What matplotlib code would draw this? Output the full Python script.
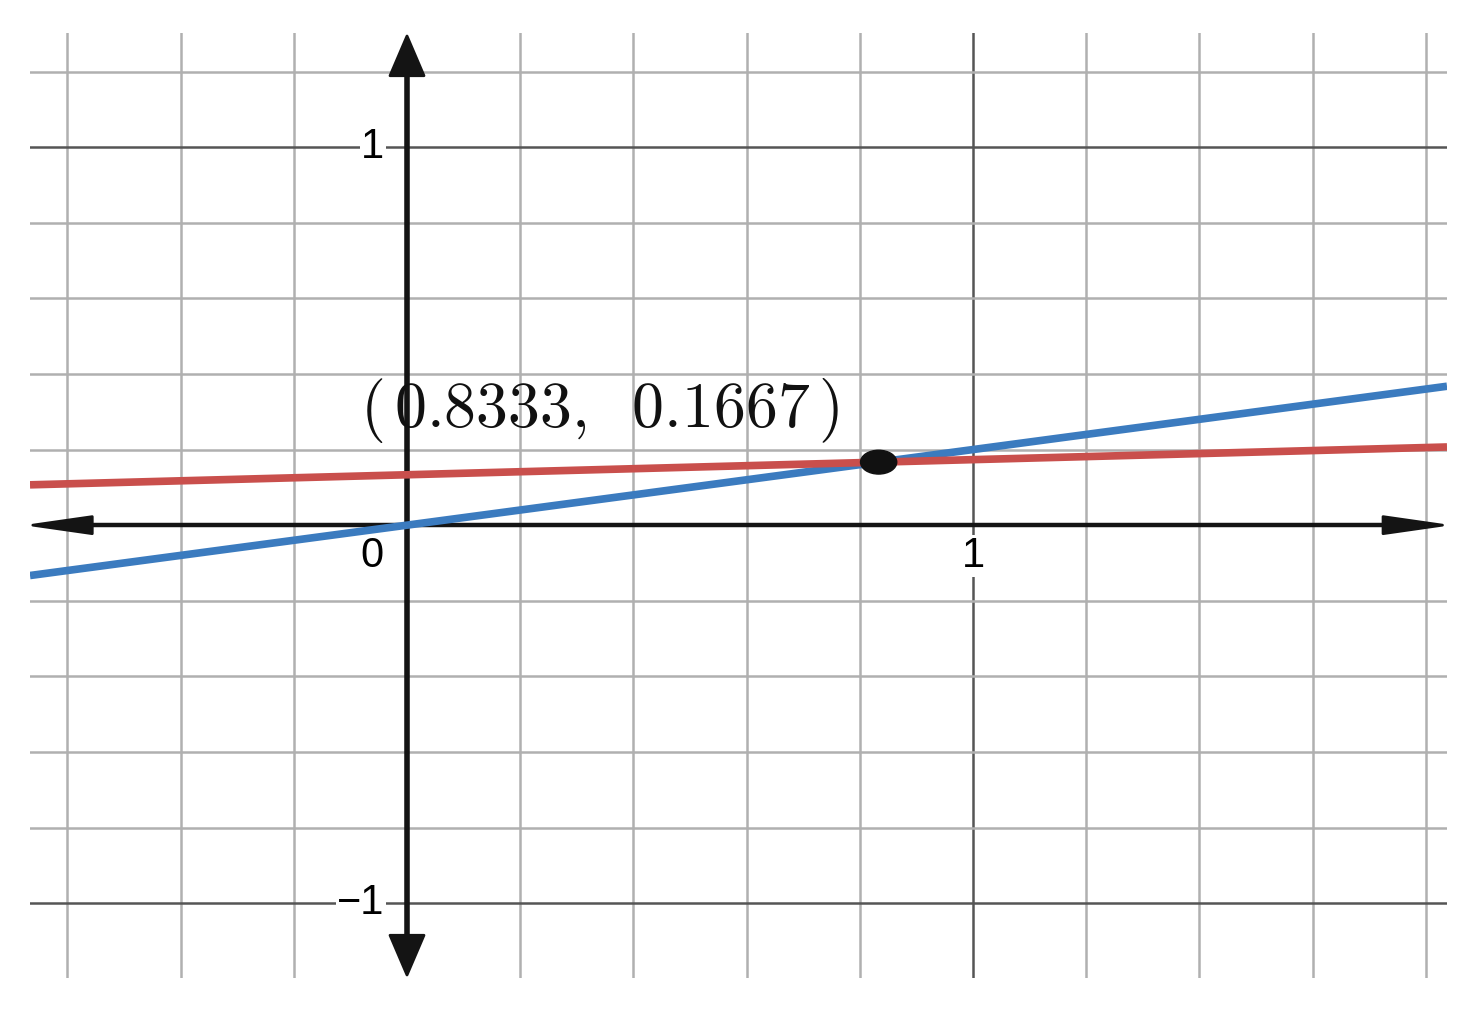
import matplotlib
matplotlib.use("Agg")
import matplotlib.pyplot as plt
from matplotlib.patches import Ellipse, Polygon
import numpy as np

# ---- data ----
x_range = [-0.6661, 1.8375]
y_range = [-1.198, 1.302]
grid_step = 0.2
major_x = [1]
major_y = [-1, 1]
x_tick_labels = {1: "1"}
y_tick_labels = {1: "1", -1: "\u22121"}
origin_label = "0"

blue_slope, blue_intercept = 0.2, 0.0
red_slope, red_intercept = 0.04, 0.13333
point_xy = (0.8333, 0.1667)
point_label = r"$(\,0.8333,\;\;0.1667\,)$"

blue_color = "#3b7bbf"
red_color = "#c94f4c"

plt.rcParams["mathtext.fontset"] = "cm"

fig = plt.figure(figsize=(14.69, 10.15), dpi=100)
ax = fig.add_axes([30 / 1469, 37 / 1015, 1417 / 1469, 945 / 1015])
ax.set_xlim(*x_range)
ax.set_ylim(*y_range)
for s in ax.spines.values():
    s.set_visible(False)
ax.set_xticks([])
ax.set_yticks([])

# grid
gx = np.arange(np.ceil(x_range[0] / grid_step), np.floor(x_range[1] / grid_step) + 1) * grid_step
gy = np.arange(np.ceil(y_range[0] / grid_step), np.floor(y_range[1] / grid_step) + 1) * grid_step
for v in gx:
    if np.isclose(v, 0):
        continue
    major = any(np.isclose(v, m) for m in major_x)
    ax.axvline(v, color="#555555" if major else "#b0b0b0", lw=1.8, zorder=1)
for v in gy:
    if np.isclose(v, 0):
        continue
    major = any(np.isclose(v, m) for m in major_y)
    ax.axhline(v, color="#555555" if major else "#b0b0b0", lw=1.8, zorder=1)

# axes with arrows
ax_color = "#141414"
tipL, tipR = x_range[0] + 0.005, x_range[1] - 0.008
tipT, tipB = y_range[1] - 0.008, y_range[0] + 0.008
hl, hw = 0.105, 0.03
ax.plot([tipL + hl * 0.5, tipR - hl * 0.5], [0, 0], color=ax_color, lw=3.2, zorder=3)
ax.plot([0, 0], [tipB + hl * 0.5, tipT - hl * 0.5], color=ax_color, lw=4.0, zorder=3)
ax.add_patch(Polygon([[tipL, 0], [tipL + hl, hw * 0.75], [tipL + hl, -hw * 0.75]], closed=True,
                     color=ax_color, zorder=3, joinstyle="round", lw=2))
ax.add_patch(Polygon([[tipR, 0], [tipR - hl, hw * 0.75], [tipR - hl, -hw * 0.75]], closed=True,
                     color=ax_color, zorder=3, joinstyle="round", lw=2))
ax.add_patch(Polygon([[0, tipT], [hw, tipT - hl], [-hw, tipT - hl]], closed=True,
                     color=ax_color, zorder=3, joinstyle="round", lw=2))
ax.add_patch(Polygon([[0, tipB], [hw, tipB + hl], [-hw, tipB + hl]], closed=True,
                     color=ax_color, zorder=3, joinstyle="round", lw=2))

# tick labels
lab_font = dict(family=["Liberation Sans", "DejaVu Sans"], fontsize=30, color="black")
bb = dict(facecolor="white", edgecolor="none", pad=1.0)
for v, t in y_tick_labels.items():
    ax.text(-0.04, v, t, ha="right", va="center", bbox=bb, zorder=2, **lab_font)
for v, t in x_tick_labels.items():
    ax.text(v, -0.082, t, ha="center", va="center", bbox=bb, zorder=2, **lab_font)
ax.text(-0.062, -0.082, origin_label, ha="center", va="center", zorder=2, **lab_font)

# lines
xs = np.array(x_range)
ax.plot(xs, blue_slope * xs + blue_intercept, color=blue_color, lw=5.5, zorder=4, solid_capstyle="butt")
ax.plot(xs, red_slope * xs + red_intercept, color=red_color, lw=5.5, zorder=4, solid_capstyle="butt")

# point
ax.add_patch(Ellipse(point_xy, width=0.064, height=0.063, color="#111111", zorder=5))
ax.annotate(point_label, xy=point_xy, xytext=(-40, 35), textcoords="offset pixels",
            ha="right", va="baseline", fontsize=46, color="#111111", zorder=6)

fig.savefig("out.png", dpi=100, facecolor="white")
